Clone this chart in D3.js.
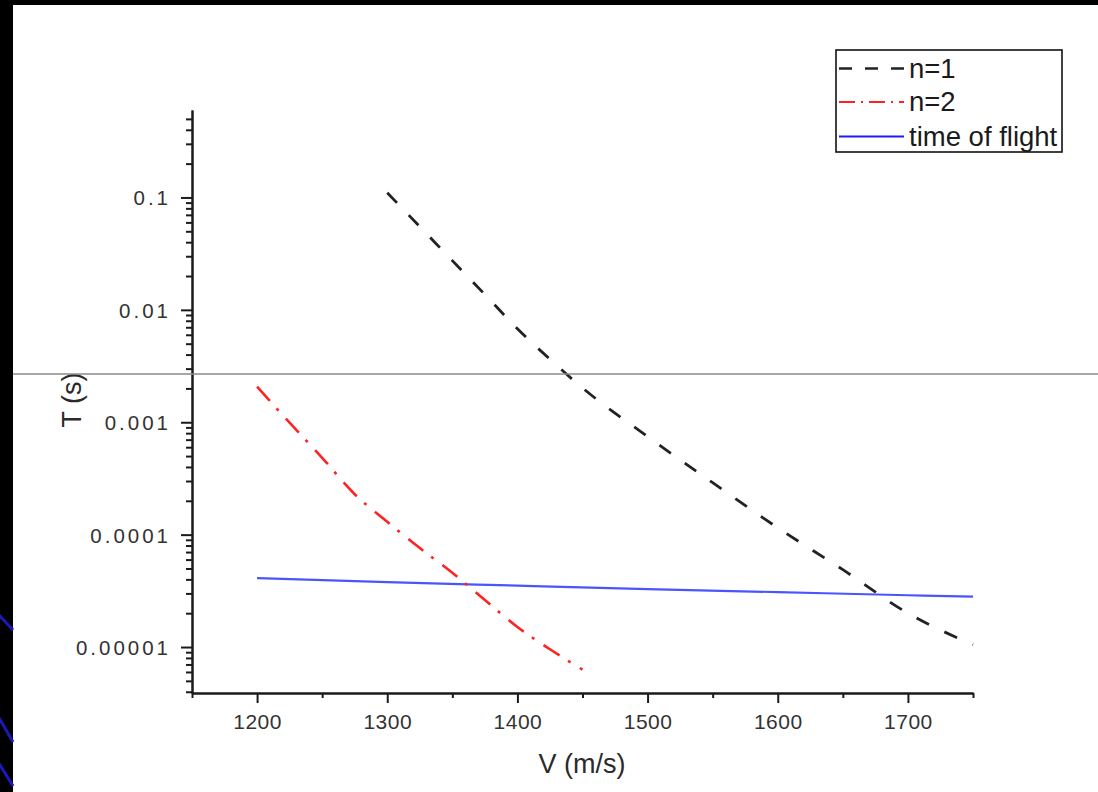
<!DOCTYPE html>
<html>
<head>
<meta charset="utf-8">
<script src="https://cdn.jsdelivr.net/npm/d3@7"></script>
<style>
  html, body { margin: 0; padding: 0; background: #fff; }
  svg { display: block; }
  text { font-family: "Liberation Sans", Arial, sans-serif; }
</style>
</head>
<body>
<svg id="chart" width="1098" height="792"></svg>
<script>
// Velocity samples (m/s) and times (s) for each series
const n1V = [1300, 1325, 1350, 1375, 1400, 1425, 1450, 1500, 1550, 1600, 1650, 1700, 1750];
const n1T = [0.11, 0.055, 0.0274, 0.0137, 0.0068, 0.00363, 0.00202, 0.000746, 0.00029, 0.000115, 0.0000488, 0.00002, 0.0000105];

const n2V = [1200, 1225, 1250, 1275, 1300, 1325, 1350, 1375, 1400, 1425, 1450];
const n2T = [0.00207, 0.00099, 0.000483, 0.000229, 0.00013, 0.000076, 0.0000458, 0.0000262, 0.0000151, 0.00000955, 0.0000063];

const tofV = [1200, 1300, 1400, 1500, 1600, 1700, 1750];
const tofT = [0.000041, 0.0000378, 0.0000352, 0.0000328, 0.0000308, 0.0000289, 0.0000281];

// Axis ticks
const xMajorTicks = [1200, 1300, 1400, 1500, 1600, 1700];
const xMinorTicks = [1150, 1250, 1350, 1450, 1550, 1650, 1750];
const yMajorTicks = [0.1, 0.01, 0.001, 0.0001, 0.00001];
const yTickLabels = ["0.1", "0.01", "0.001", "0.0001", "0.00001"];

const legendLabels = ["n=1", "n=2", "time of flight"];

const svg = d3.select("#chart");

// Slide background: black frame with blue accents on the left edge
svg.append("rect").attr("x", 0).attr("y", 0).attr("width", 1098).attr("height", 5).attr("fill", "#000");
svg.append("rect").attr("x", 0).attr("y", 0).attr("width", 13).attr("height", 792).attr("fill", "#000");
const accents = [[614, 630], [716, 742], [762, 786]];
accents.forEach(([y0, y1]) => {
  svg.append("line").attr("x1", -2).attr("y1", y0).attr("x2", 13).attr("y2", y1)
    .attr("stroke", "#1a1ab8").attr("stroke-width", 3);
});

const x = d3.scaleLinear().domain([1150, 1750]).range([192, 973]);
const y = d3.scaleLog().domain([0.0000039, 0.6]).range([693, 110]);

// Minor y ticks: 2..9 within each decade inside the domain
const yMinorTicks = [];
for (let e = -6; e <= 0; e++) {
  for (let m = 2; m <= 9; m++) {
    const v = m * Math.pow(10, e);
    if (v >= y.domain()[0] && v <= y.domain()[1]) yMinorTicks.push(v);
  }
}

const axisColor = "#1a1a1a";
const labelColor = "#333";

// X axis
const gxMinor = svg.append("g").attr("transform", `translate(0,${y.range()[0]})`)
  .call(d3.axisBottom(x).tickValues(xMinorTicks).tickSize(5).tickSizeOuter(0).tickFormat(""));
const gx = svg.append("g").attr("transform", `translate(0,${y.range()[0]})`)
  .call(d3.axisBottom(x).tickValues(xMajorTicks).tickSize(10).tickSizeOuter(0).tickPadding(11).tickFormat(d3.format("d")));

// Y axis
const gyMinor = svg.append("g").attr("transform", `translate(${x.range()[0]},0)`)
  .call(d3.axisLeft(y).tickValues(yMinorTicks).tickSize(6).tickSizeOuter(0).tickFormat(""));
const gy = svg.append("g").attr("transform", `translate(${x.range()[0]},0)`)
  .call(d3.axisLeft(y).tickValues(yMajorTicks).tickSize(11).tickSizeOuter(0).tickPadding(8)
    .tickFormat((d, i) => yTickLabels[i]));

[gx, gxMinor, gy, gyMinor].forEach(g => {
  g.selectAll("line").attr("stroke", axisColor).attr("stroke-width", 2);
  g.select(".domain").attr("stroke", axisColor).attr("stroke-width", 2);
});

gx.selectAll("text").attr("font-size", 21).attr("fill", labelColor)
  .attr("letter-spacing", 0.5).attr("dy", "0.71em");
gy.selectAll("text").attr("font-size", 20.5).attr("fill", labelColor)
  .attr("letter-spacing", 3).attr("dx", -2).attr("dy", "0.36em");

// Axis titles
svg.append("text").attr("x", 582).attr("y", 773).attr("text-anchor", "middle")
  .attr("font-size", 27).attr("fill", "#2a2a2a").text("V (m/s)");
svg.append("text").attr("transform", "translate(81,400) rotate(-90)").attr("text-anchor", "middle")
  .attr("font-size", 27).attr("fill", "#2a2a2a").text("T (s)");

// Curves
const line = d3.line().x(d => x(d[0])).y(d => y(d[1])).curve(d3.curveMonotoneX);
const zip = (a, b) => a.map((v, i) => [v, b[i]]);

svg.append("path").datum(zip(tofV, tofT)).attr("d", line)
  .attr("fill", "none").attr("stroke", "#4a55ff").attr("stroke-width", 2.2);
svg.append("path").datum(zip(n2V, n2T)).attr("d", line)
  .attr("fill", "none").attr("stroke", "#ff2222").attr("stroke-width", 2.6)
  .attr("stroke-dasharray", "19,10,3,11");
svg.append("path").datum(zip(n1V, n1T)).attr("d", line)
  .attr("fill", "none").attr("stroke", "#222").attr("stroke-width", 2.8)
  .attr("stroke-dasharray", "14,17");

// Horizontal rule across the slide
svg.append("line").attr("x1", 13).attr("x2", 1098).attr("y1", 374).attr("y2", 374)
  .attr("stroke", "#8a8a8a").attr("stroke-width", 1.5);

// Legend
const legend = svg.append("g");
legend.append("rect").attr("x", 836).attr("y", 50).attr("width", 226).attr("height", 102)
  .attr("fill", "#fff").attr("stroke", "#111").attr("stroke-width", 1.6);
const legendStyles = [
  { color: "#222", dash: "13,13", width: 2.4 },
  { color: "#ff2222", dash: "16,6,2,6", width: 2.2 },
  { color: "#1a1aff", dash: null, width: 1.8 }
];
const legendY = [68.5, 102, 136.5];
legendLabels.forEach((lab, i) => {
  const s = legendStyles[i];
  const l = legend.append("line").attr("x1", 839).attr("x2", 904)
    .attr("y1", legendY[i]).attr("y2", legendY[i])
    .attr("stroke", s.color).attr("stroke-width", s.width);
  if (s.dash) l.attr("stroke-dasharray", s.dash);
  legend.append("text").attr("x", 909).attr("y", legendY[i] + 9)
    .attr("font-size", 27.5).attr("fill", "#1a1a1a").text(lab);
});
</script>
</body>
</html>
